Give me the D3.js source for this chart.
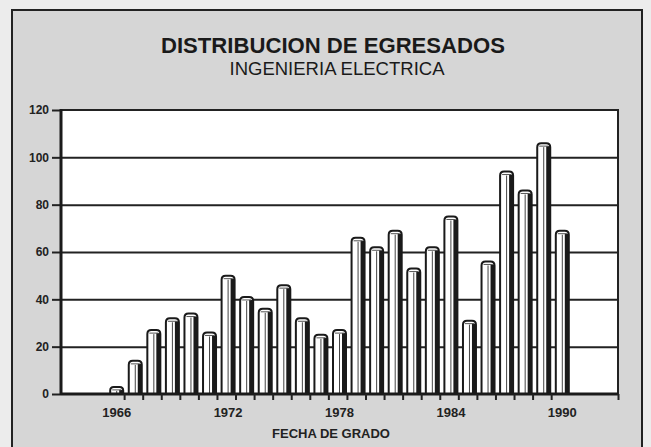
<!DOCTYPE html>
<html>
<head>
<meta charset="utf-8">
<script src="https://cdn.jsdelivr.net/npm/d3@7"></script>
<style>
  html, body { margin: 0; padding: 0; background: #ececec; }
  svg { display: block; font-family: "Liberation Sans", Arial, sans-serif; }
</style>
</head>
<body>
<div id="chart"></div>
<script>
// graduates per year
const years = [1966, 1967, 1968, 1969, 1970, 1971, 1972, 1973, 1974, 1975, 1976, 1977, 1978,
               1979, 1980, 1981, 1982, 1983, 1984, 1985, 1986, 1987, 1988, 1989, 1990];
const graduates = [3, 14, 27, 32, 34, 26, 50, 41, 36, 46, 32, 25, 27,
                   66, 62, 69, 53, 62, 75, 31, 56, 94, 86, 106, 69];
const yTicks = [0, 20, 40, 60, 80, 100, 120];
const xLabels = [1966, 1972, 1978, 1984, 1990];

const width = 651, height = 447;
const margin = {top: 110, right: 33, bottom: 53, left: 61};

const svg = d3.select("#chart").append("svg")
    .attr("width", width)
    .attr("height", height);

// paper + frame
svg.append("rect")
    .attr("x", 12).attr("y", 10)
    .attr("width", 630).attr("height", 445)
    .attr("fill", "#d6d6d6")
    .attr("stroke", "#222").attr("stroke-width", 2);

// titles
svg.append("text")
    .attr("x", 333).attr("y", 53)
    .attr("text-anchor", "middle")
    .style("font-size", "22px").style("font-weight", "bold")
    .attr("textLength", 344).attr("lengthAdjust", "spacingAndGlyphs")
    .attr("fill", "#1a1a1a")
    .text("DISTRIBUCION DE EGRESADOS");

svg.append("text")
    .attr("x", 337).attr("y", 75)
    .attr("text-anchor", "middle")
    .style("font-size", "18px")
    .attr("textLength", 215).attr("lengthAdjust", "spacingAndGlyphs")
    .attr("fill", "#1a1a1a")
    .text("INGENIERIA ELECTRICA");

const x = d3.scaleLinear()
    .domain([1963, 1993])
    .range([margin.left, width - margin.right]);

const y = d3.scaleLinear()
    .domain([0, 120])
    .range([height - margin.bottom, margin.top]);

// plot area
svg.append("rect")
    .attr("x", x(1963)).attr("y", y(120))
    .attr("width", x(1993) - x(1963)).attr("height", y(0) - y(120))
    .attr("fill", "#fff")
    .attr("stroke", "#222").attr("stroke-width", 2);

// y axis with gridlines
const yAxis = svg.append("g")
    .attr("transform", `translate(${x(1963)},0)`)
    .call(d3.axisLeft(y)
        .tickValues(yTicks)
        .tickSize(9)
        .tickPadding(3));
yAxis.select(".domain").remove();
yAxis.selectAll(".tick line").attr("stroke", "#222").attr("stroke-width", 2);
yAxis.selectAll(".tick text")
    .style("font-size", "12px").style("font-weight", "bold")
    .attr("fill", "#222");
yAxis.selectAll(".tick").filter(d => d > 0 && d < 120)
    .append("line")
    .attr("x2", x(1993) - x(1963))
    .attr("stroke", "#222").attr("stroke-width", 2);

// bars: rounded 3d columns
const barW = 13;
const bar = svg.append("g").selectAll("g")
    .data(years.map((yr, i) => ({year: yr, value: graduates[i]})))
    .join("g")
    .attr("transform", d => `translate(${x(d.year) - barW / 2},0)`);

bar.append("path")
    .attr("d", d => {
        const top = y(d.value), bot = y(0), r = 4;
        const h = bot - top;
        const rr = Math.min(r, h / 2);
        return `M0,${bot} L0,${top + rr} Q0,${top} ${rr},${top} L${barW - rr},${top} Q${barW},${top} ${barW},${top + rr} L${barW},${bot}`;
    })
    .attr("fill", "#fff")
    .attr("stroke", "#1a1a1a").attr("stroke-width", 2);

bar.append("rect")
    .attr("x", barW - 4)
    .attr("y", d => y(d.value) + 3)
    .attr("width", 4)
    .attr("height", d => Math.max(0, y(0) - y(d.value) - 3))
    .attr("fill", "#1a1a1a");

bar.append("line")
    .attr("x1", barW - 6.5).attr("x2", barW - 6.5)
    .attr("y1", d => y(d.value) + 4)
    .attr("y2", y(0))
    .attr("stroke", "#444").attr("stroke-width", 1);

bar.append("path")
    .attr("d", d => {
        const top = y(d.value);
        return `M2,${top + 3} L${barW - 2},${top + 3}`;
    })
    .attr("stroke", "#555").attr("stroke-width", 1);

// x axis
const xAxis = svg.append("g")
    .attr("transform", `translate(0,${y(0)})`)
    .call(d3.axisBottom(x)
        .tickValues(years.slice(0, -1).map(d => d + 0.4).concat([1993]))
        .tickSize(6)
        .tickFormat(""));
xAxis.select(".domain")
    .attr("d", `M${x(1963)},0H${x(1993)}`)
    .attr("stroke", "#1a1a1a").attr("stroke-width", 3);
xAxis.selectAll(".tick line").attr("stroke", "#222").attr("stroke-width", 2);

svg.append("g").selectAll("text")
    .data(xLabels)
    .join("text")
    .attr("x", d => x(d))
    .attr("y", y(0) + 23)
    .attr("text-anchor", "middle")
    .style("font-size", "13px").style("font-weight", "bold")
    .attr("fill", "#222")
    .text(d => d);

// left axis line
svg.append("line")
    .attr("x1", x(1963)).attr("x2", x(1963))
    .attr("y1", y(120) - 1).attr("y2", y(0) + 1)
    .attr("stroke", "#1a1a1a").attr("stroke-width", 3);

svg.append("text")
    .attr("x", 331).attr("y", 438)
    .attr("text-anchor", "middle")
    .style("font-size", "13px").style("font-weight", "bold")
    .attr("fill", "#222")
    .text("FECHA DE GRADO");
</script>
</body>
</html>
